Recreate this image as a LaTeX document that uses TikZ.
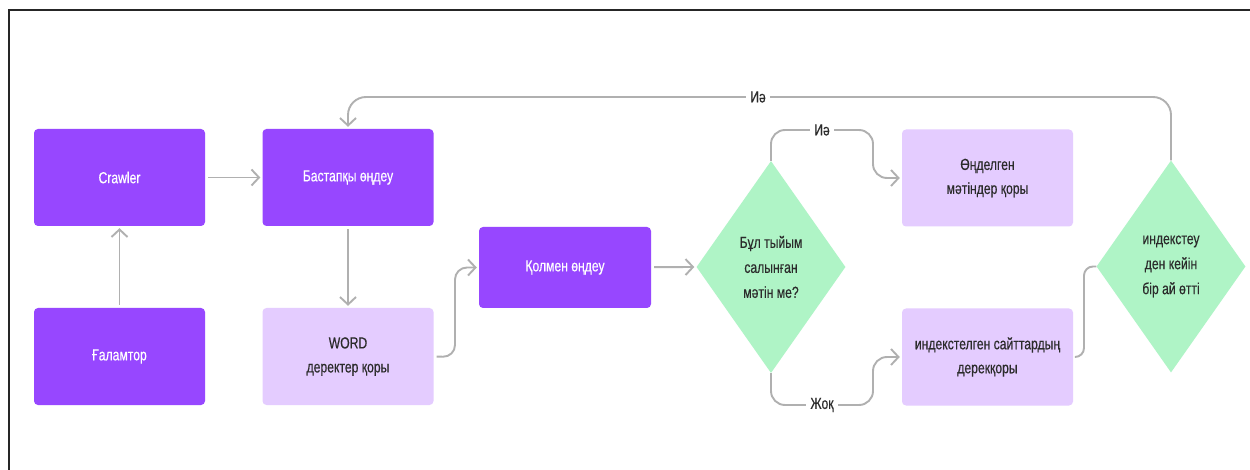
\documentclass[tikz,border=0pt]{standalone}
\usepackage{fontspec}
\setmainfont[FakeStretch=0.76,FakeBold=0.4]{Liberation Sans}
\usetikzlibrary{arrows.meta,shapes.geometric,calc}
\definecolor{darkpurple}{HTML}{9747FF}
\definecolor{lightpurple}{HTML}{E4CCFF}
\definecolor{mint}{HTML}{AFF4C6}
\definecolor{conngray}{HTML}{B0B0B0}
\definecolor{txtdark}{HTML}{2B2B2B}
\tikzset{
  dbox/.style={rectangle, rounded corners=4pt, fill=darkpurple, text=white,
    minimum width=171pt, minimum height=97pt, align=center, inner sep=0pt,
    font=\fontsize{16}{24}\selectfont},
  lbox/.style={dbox, fill=lightpurple, text=txtdark},
  dia/.style={diamond, fill=mint, text=txtdark, minimum width=149pt, minimum height=212pt,
    inner sep=0pt, align=center, font=\fontsize{16}{25}\selectfont},
  conn/.style={draw=conngray, line width=1.9pt, shorten <=3pt},
  arr/.style={conn, -{Straight Barb[length=7.5pt,width=16pt,line width=1.9pt]}, shorten >=2pt},
  lbl/.style={fill=white, text=txtdark, inner sep=4pt, font=\fontsize{16}{18}\selectfont},
}
\begin{document}
\begin{tikzpicture}[x=1pt,y=-1pt]
\useasboundingbox (0,0) rectangle (1250,470);
\fill[white] (0,0) rectangle (1250,470);
\draw[line width=2pt, black!85] (9,470) -- (9,10) -- (1250,10);

\node[dbox] (crawler) at (119.5,177.5) {Crawler};
\node[dbox] (galam) at (119.5,356.5) {Ғаламтор};
\node[dbox] (bast) at (348,177.5) {Бастапқы өңдеу};
\node[lbox] (word) at (348,356.5) {WORD\\деректер қоры};
\node[dbox, minimum width=172pt, minimum height=81pt] (qol) at (565,267.5) {Қолмен өңдеу};
\node[dia] (d1) at (771,267) {Бұл тыйым\\салынған\\мәтін ме?};
\node[lbox] (ond) at (987.5,178) {Өңделген\\мәтіндер қоры};
\node[lbox] (idx) at (987.5,357) {индекстелген сайттардың\\дерекқоры};
\node[dia] (d2) at (1171,266.5) {индекстеу\\ден кейін\\бір ай өтті};

\coordinate (topleft) at (348,97);
\coordinate (yesR) at (873,130);
\coordinate (noR) at (873,405);
\coordinate (wmid) at (455,357);
\coordinate (imid) at (1084,357);

\draw[arr] (crawler) -- (bast);
\draw[arr] (galam) -- (crawler);
\draw[arr] (bast) -- (word);
\draw[arr, rounded corners=12pt] (word.east) -- (wmid) |- (qol.west);
\draw[arr] (qol) -- (d1.west);
\draw[arr, rounded corners=14pt, shorten <=0pt] (d1.north) |- (yesR) |- (ond.west);
\draw[arr, rounded corners=14pt, shorten <=0pt] (d1.south) |- (noR) |- (idx.west);
\draw[conn, rounded corners=9pt, shorten >=0pt] (idx.east) -- (imid) |- (d2.west);
\draw[arr, rounded corners=18pt, shorten <=0pt] (d2.north) |- (topleft) -- (bast.north);

\node[lbl] (l1) at (758,97) {Иә};
\node[lbl] (l2) at (822,130) {Иә};
\node[lbl] (l3) at (822,405) {Жоқ};
\end{tikzpicture}
\end{document}
